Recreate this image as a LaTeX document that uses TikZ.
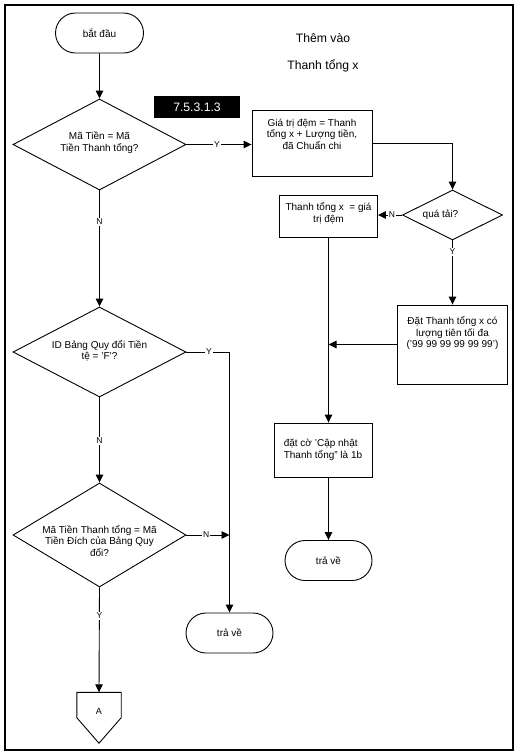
\documentclass[tikz,border=0pt]{standalone}
\usepackage{fontspec}
\setmainfont{Liberation Sans}
\usetikzlibrary{shapes.geometric,shapes.misc,arrows.meta}
\begin{document}
\begin{tikzpicture}[x=1pt,y=-1pt,
  every node/.style={font=\fontsize{10}{11.5}\selectfont},
  ln/.style={line width=0.9pt},
  arr/.style={ln,-{Triangle[length=8pt,width=7.5pt]}},
  box/.style={draw,ln,rectangle,inner sep=0pt},
  term/.style={draw,ln,rounded rectangle,inner sep=0pt,minimum width=87pt,minimum height=40pt},
  dia/.style={draw,ln,diamond,inner sep=0pt},
  txt/.style={align=center,inner sep=0pt},
  yn/.style={font=\fontsize{8.5}{9}\selectfont,fill=white,inner sep=1pt}
]
\useasboundingbox (0,0) rectangle (522,753);
\node[draw,line width=1.4pt,minimum width=508pt,minimum height=745pt,inner sep=0pt] (frame) at (259,377.5) {};

\node[txt,font=\fontsize{12.2}{27}\selectfont] (title) at (323,52.5) {Thêm vào\\Thanh tổng x};
\node[fill=black,text=white,font=\fontsize{12.2}{14}\selectfont,minimum width=86pt,minimum height=22pt,inner sep=0pt] (tag) at (197,107) {7.5.3.1.3};

\node[term,minimum width=88pt] (start) at (99.5,33) {bắt đầu};
\node[dia,minimum width=173pt,minimum height=91pt,label={[txt,yshift=2pt]center:{Mã Tiền = Mã\\Tiền Thanh tổng?}}] (d1) at (99.5,144.5) {};
\node[box,minimum width=120pt,minimum height=66pt,label={[txt,anchor=north,yshift=-9pt]north:{Giá trị đệm = Thanh\\tổng x + Lượng tiền,\\đã Chuẩn chi}}] (b1) at (312,143) {};
\node[dia,minimum width=100pt,minimum height=50pt,label={[txt,xshift=-12pt]center:{quá tải?}}] (d2) at (452.5,215) {};
\node[box,minimum width=98pt,minimum height=42pt,label={[txt,anchor=north,yshift=-8pt]north:{Thanh tổng x\ \ = giá\\trị đệm}}] (b2) at (328.5,216) {};
\node[box,minimum width=110pt,minimum height=79pt,label={[txt,anchor=north,yshift=-12pt]north:{Đặt Thanh tổng x có\\lượng tiên tối đa\\('99 99 99 99 99 99')}}] (b3) at (452.5,344.5) {};
\node[box,minimum width=98pt,minimum height=54pt,align=left] (b4) at (323,450) {đặt cờ 'Cập nhật\\Thanh tổng" là 1b};
\node[term] (t2) at (328.5,560.5) {trả về};
\node[dia,minimum width=173pt,minimum height=90pt,label={[txt,yshift=1.5pt]center:{ID Bảng Quy đổi Tiền\\tệ = 'F'?}}] (d3) at (99.5,352) {};
\node[dia,minimum width=173pt,minimum height=104pt,label={[txt,yshift=-6pt]center:{Mã Tiền Thanh tổng = Mã\\Tiền Đích của Bảng Quy\\đổi?}}] (d4) at (99.5,535) {};
\node[term] (t1) at (229.5,633) {trả về};
\node[inner sep=0pt,minimum width=44pt,minimum height=25pt,label={[font=\fontsize{9}{10}\selectfont,yshift=-6pt]center:A}] (A) at (99,705) {};
\draw[ln] (A.north west) -- (A.north east) -- (A.south east) -- ([yshift=-25.5pt]A.south) -- (A.south west) -- cycle;

\draw[arr] (start) -- (d1);
\draw[arr] (d1.east) -- node[yn,pos=0.47]{Y} (d1.east -| b1.west);
\draw[arr] (b1.east) -| (d2.north);
\draw[arr] (d2.west) -- node[yn,pos=0.42]{N} (d2.west -| b2.east);
\draw[arr] (d2.south) -- node[yn,pos=0.18]{Y} (d2.south |- b3.north);
\draw[arr] (b2.south) -- (b2.south |- b4.north);
\draw[arr] (b3.west) -- (b3.west -| b2.south);
\draw[arr] (t2.north |- b4.south) -- (t2.north);
\draw[arr] (d1.south) -- node[yn,pos=0.27]{N} (d3.north);
\draw[arr] (d3.east) -| node[yn,pos=0.26]{Y} (t1.north);
\draw[arr] (d3.south) -- node[yn,pos=0.51]{N} (d4.north);
\draw[arr] (d4.east) -- node[yn,pos=0.46]{N} (d4.east -| t1.north);
\draw[arr] (d4.south) -- node[yn,pos=0.27]{Y} (A.north);
\end{tikzpicture}
\end{document}
